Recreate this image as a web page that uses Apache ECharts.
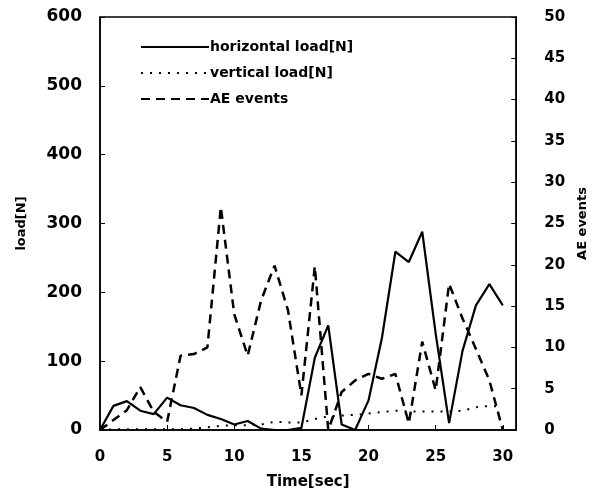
<!DOCTYPE html>
<html>
<head>
<meta charset="utf-8">
<script src="https://cdn.jsdelivr.net/npm/echarts@6/dist/echarts.min.js"></script>
<style>html,body{margin:0;padding:0;background:#fff}#c{width:597px;height:495px}</style>
</head>
<body>
<div id="c"></div>
<script>
var times = [0,1,2,3,4,5,6,7,8,9,10,11,12,13,14,15,16,17,18,19,20,21,22,23,24,25,26,27,28,29,30];
var horizontalLoad = [0,35,42,28,23,47,36,32,22,16,8,13,2,0,0,3,105,152,8,0,43,134,259,244,288,140,10,115,181,212,181];
var verticalLoad = [0,1,1,1,1,1,1,2,4,6,7,7,8,12,11,11,16,20,21,22,24,26,28,27,27,27,27,28,33,35,34];
var aeEvents = [0,1.2,2.4,5.2,2.2,1,9,9.2,10,27,14,9,15.7,19.9,14.5,4.2,19.8,0,4.6,6,6.8,6.2,6.8,0.8,10.7,4.8,17.7,13.5,9.8,6,0];
var xTicks = [0,5,10,15,20,25,30];
var loadTicks = [0,100,200,300,400,500,600];
var aeTicks = [0,5,10,15,20,25,30,35,40,45,50];

function pairs(arr){ return times.map(function(t,i){ return [t, arr[i]]; }); }

var FONT = 'DejaVu Sans';
var chart = echarts.init(document.getElementById('c'));
chart.setOption({
  animation: false,
  backgroundColor: '#fff',
  textStyle: { fontFamily: FONT, color: '#000' },
  grid: { left: 100, right: 77, top: 17, bottom: 58, show: true, borderColor: '#000', borderWidth: 1.5, backgroundColor: 'transparent' },
  legend: {
    orient: 'vertical', left: 135, top: 35, itemWidth: 68, itemHeight: 14, itemGap: 12,
    itemStyle: { opacity: 0, borderWidth: 0 },
    textStyle: { fontFamily: FONT, fontWeight: 'bold', fontSize: 14, color: '#000', padding: [0,0,0,-4] },
    data: ['horizontal load[N]', 'vertical load[N]', 'AE events']
  },
  xAxis: {
    type: 'value', min: 0, max: 31, interval: 5,
    name: 'Time[sec]', nameLocation: 'middle', nameGap: 45,
    nameTextStyle: { fontFamily: FONT, fontWeight: 'bold', fontSize: 15, color: '#000' },
    axisLine: { show: true, lineStyle: { color: '#000', width: 1.5 } },
    axisTick: { show: true, inside: true, length: 5, lineStyle: { color: '#000' } },
    axisLabel: { showMaxLabel: false, margin: 20, fontFamily: FONT, fontWeight: 'bold', fontSize: 15, color: '#000',
      formatter: function(v){ return xTicks.indexOf(v) >= 0 ? String(v) : ''; } },
    splitLine: { show: false }
  },
  yAxis: [{
    type: 'value', min: 0, max: 600, interval: 100, position: 'left',
    name: 'load[N]', nameLocation: 'middle', nameGap: 72, nameRotate: 90,
    nameTextStyle: { fontFamily: FONT, fontWeight: 'bold', fontSize: 13, color: '#000' },
    axisLine: { show: true, lineStyle: { color: '#000', width: 1.5 } },
    axisTick: { show: true, inside: true, length: 5, lineStyle: { color: '#000' } },
    axisLabel: { margin: 18, fontFamily: FONT, fontWeight: 'bold', fontSize: 17, color: '#000',
      formatter: function(v){ return loadTicks.indexOf(v) >= 0 ? String(v) : ''; } },
    splitLine: { show: false }
  }, {
    type: 'value', min: 0, max: 50, interval: 5, position: 'right',
    name: 'AE events', nameLocation: 'middle', nameGap: 54, nameRotate: 90,
    nameTextStyle: { fontFamily: FONT, fontWeight: 'bold', fontSize: 13, color: '#000' },
    axisLine: { show: true, lineStyle: { color: '#000', width: 1.5 } },
    axisTick: { show: true, inside: true, length: 5, lineStyle: { color: '#000' } },
    axisLabel: { margin: 28, fontFamily: FONT, fontWeight: 'bold', fontSize: 15, color: '#000',
      formatter: function(v){ return aeTicks.indexOf(v) >= 0 ? String(v) : ''; } },
    splitLine: { show: false }
  }],
  series: [{
    name: 'horizontal load[N]', type: 'line', yAxisIndex: 0, showSymbol: false, symbol: 'none',
    data: pairs(horizontalLoad),
    lineStyle: { color: '#000', width: 2.2, type: 'solid' }, itemStyle: { color: '#000' }
  }, {
    name: 'vertical load[N]', type: 'line', yAxisIndex: 0, showSymbol: false, symbol: 'none',
    data: pairs(verticalLoad),
    lineStyle: { color: '#000', width: 2, type: [2, 7] }, itemStyle: { color: '#000' }
  }, {
    name: 'AE events', type: 'line', yAxisIndex: 1, showSymbol: false, symbol: 'none',
    data: pairs(aeEvents),
    lineStyle: { color: '#000', width: 2.5, type: [9, 6] }, itemStyle: { color: '#000' }
  }]
});
</script>
</body>
</html>
